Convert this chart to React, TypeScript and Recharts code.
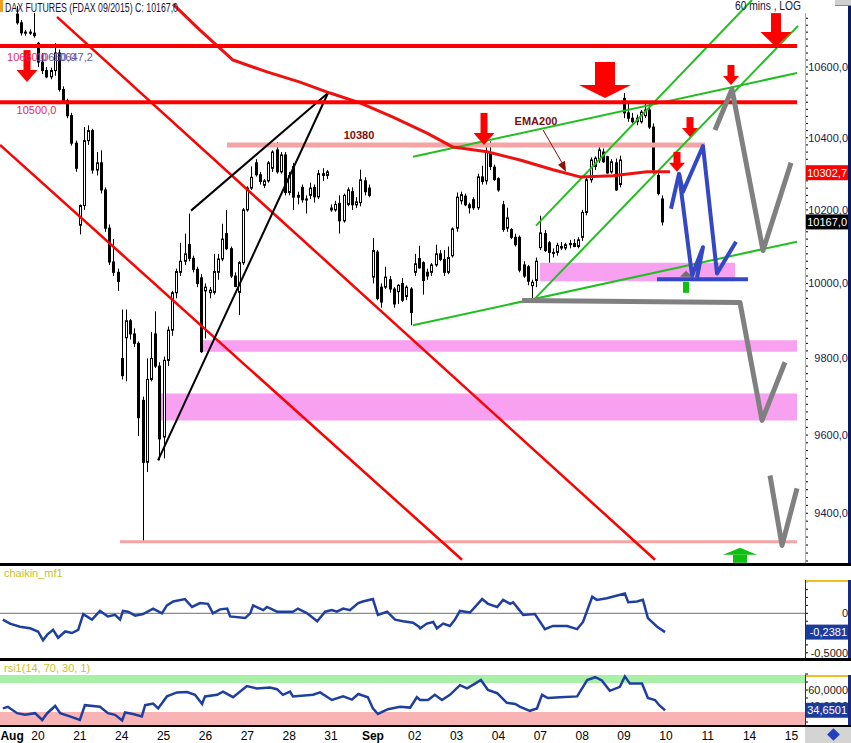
import React from 'react';
import { ComposedChart, Bar, Line, XAxis, YAxis, ReferenceArea, ReferenceDot, ReferenceLine } from 'recharts';

const FONT = '"Liberation Sans", Arial, Helvetica, sans-serif';

// ---------- time axis: t = trading-day index (0 = Aug 20), 10 hourly slots per day ----------
const T_DOMAIN: [number, number] = [-0.908, 18.323];
const xTickValues = [-0.62, 0, 1, 2, 3, 4, 5, 6, 7, 8, 9, 10, 11, 12, 13, 14, 15, 16, 17, 18];
const xTickLabels = ['Aug', '20', '21', '24', '25', '26', '27', '28', '31', 'Sep', '02', '03', '04', '07', '08', '09', '10', '11', '14', '15'];

// ---------- price axis (log) ----------
const P_DOMAIN: [number, number] = [9275, 10793];
const priceLabels = [9400, 9600, 9800, 10000, 10200, 10400, 10600];
const priceMarkers = [{ value: 10302.7, bg: '#ff0000' }, { value: 10167.0, bg: '#000000' }];

// ---------- hourly candles [open, high, low, close] ----------
const aug19 = [
  [10752, 10775, 10722, 10727], [10727, 10735, 10690, 10698], [10698, 10706, 10690, 10700],
  [10700, 10708, 10692, 10697], [10697, 10755, 10684, 10690],
];
const aug20 = [
  [10668, 10672, 10600, 10614], [10614, 10640, 10580, 10590], [10590, 10600, 10568, 10572],
  [10572, 10598, 10565, 10590], [10590, 10668, 10575, 10640], [10640, 10650, 10530, 10536],
  [10536, 10545, 10495, 10505], [10505, 10510, 10455, 10462], [10462, 10470, 10378, 10385],
  [10385, 10392, 10305, 10315],
];
const aug21 = [
  [10158, 10215, 10133, 10212], [10212, 10430, 10200, 10392], [10392, 10435, 10380, 10420],
  [10420, 10425, 10300, 10310], [10310, 10360, 10295, 10330], [10330, 10365, 10245, 10255],
  [10255, 10262, 10140, 10150], [10150, 10160, 10050, 10058], [10058, 10120, 10020, 10030],
  [10030, 10040, 9980, 10005],
];
const aug24 = [
  [9800, 9930, 9745, 9755], [9855, 9930, 9740, 9900], [9900, 9905, 9850, 9865],
  [9865, 9880, 9830, 9840], [9840, 9845, 9598, 9645], [9690, 9700, 9325, 9530],
  [9530, 9800, 9505, 9745], [9745, 9870, 9740, 9800], [9865, 9925, 9775, 9780],
  [9780, 9790, 9535, 9590],
];
const aug25 = [
  [9595, 9805, 9540, 9795], [9795, 9885, 9780, 9875], [9875, 9980, 9860, 9975],
  [9975, 10040, 9960, 10032], [10030, 10110, 10020, 10060], [10060, 10135, 10050, 10080],
  [10105, 10190, 10060, 10068], [10068, 10075, 10030, 10038], [10038, 10045, 9990, 10000],
  [10015, 10025, 9815, 9818],
];
const aug26 = [
  [9980, 10000, 9853, 9990], [9975, 9990, 9960, 9982], [9976, 10080, 9970, 10032],
  [10030, 10080, 10010, 10066], [10066, 10162, 10060, 10120], [10135, 10200, 10090, 10094],
  [10094, 10100, 10015, 10020], [10020, 10030, 9990, 9992], [9976, 10060, 9915, 10056],
  [10056, 10205, 10050, 10200],
];
const aug27 = [
  [10200, 10265, 10195, 10260], [10260, 10320, 10255, 10290], [10330, 10340, 10292, 10297],
  [10297, 10305, 10270, 10278], [10268, 10285, 10260, 10280], [10280, 10335, 10275, 10330],
  [10315, 10365, 10305, 10360], [10366, 10388, 10300, 10305], [10305, 10360, 10300, 10352],
  [10352, 10360, 10240, 10248],
];
const aug28 = [
  [10248, 10305, 10240, 10295], [10320, 10330, 10200, 10235], [10235, 10250, 10215, 10240],
  [10262, 10270, 10220, 10228], [10228, 10240, 10190, 10230], [10240, 10275, 10230, 10260],
  [10262, 10270, 10220, 10236], [10236, 10310, 10230, 10300], [10300, 10315, 10280, 10295],
  [10295, 10310, 10285, 10305],
];
const aug31 = [
  [10205, 10215, 10195, 10200], [10200, 10225, 10195, 10215], [10218, 10240, 10135, 10170],
  [10170, 10245, 10165, 10240], [10215, 10262, 10210, 10255], [10250, 10262, 10200, 10214],
  [10214, 10235, 10205, 10222], [10220, 10311, 10210, 10283], [10280, 10290, 10240, 10250],
  [10260, 10270, 10235, 10240],
];
const sep01 = [
  [10017, 10123, 10000, 10089], [10085, 10090, 9955, 9960], [9990, 10000, 9935, 9950],
  [9990, 10045, 9985, 10017], [10010, 10020, 9975, 9985], [9985, 9990, 9935, 9945],
  [9978, 9998, 9945, 9995], [10000, 10015, 9950, 9955], [9965, 9995, 9955, 9990],
  [9985, 9990, 9888, 9922],
];
const sep02 = [
  [10030, 10080, 10020, 10053], [10067, 10102, 10040, 10042], [10056, 10060, 9970, 10008],
  [10030, 10040, 10010, 10020], [10030, 10055, 10020, 10050], [10050, 10105, 10045, 10080],
  [10080, 10090, 10060, 10065], [10065, 10090, 10020, 10030], [10030, 10100, 10025, 10070],
  [10075, 10152, 10070, 10148],
];
const sep03 = [
  [10150, 10248, 10140, 10235], [10225, 10250, 10215, 10242], [10238, 10245, 10210, 10214],
  [10214, 10220, 10190, 10206], [10228, 10235, 10200, 10206], [10206, 10300, 10200, 10291],
  [10291, 10322, 10270, 10278], [10280, 10386, 10270, 10361], [10358, 10390, 10310, 10320],
  [10318, 10325, 10280, 10284],
];
const sep04 = [
  [10286, 10290, 10250, 10255], [10214, 10225, 10140, 10146], [10150, 10206, 10140, 10178],
  [10146, 10150, 10120, 10125], [10125, 10135, 10100, 10105], [10125, 10130, 10030, 10036],
  [10050, 10060, 10015, 10020], [10045, 10050, 9995, 10006], [9994, 10010, 9960, 10003],
  [10008, 10070, 9990, 10060],
];
const sep07 = [
  [10097, 10184, 10090, 10137], [10135, 10145, 10085, 10089], [10110, 10115, 10056, 10084],
  [10084, 10095, 10070, 10082], [10084, 10110, 10075, 10103], [10100, 10112, 10090, 10096],
  [10096, 10110, 10090, 10105], [10105, 10118, 10095, 10108], [10108, 10120, 10098, 10100],
  [10100, 10125, 10095, 10118],
];
const sep08 = [
  [10125, 10200, 10115, 10193], [10193, 10290, 10185, 10283], [10283, 10345, 10275, 10338],
  [10320, 10348, 10310, 10343], [10338, 10374, 10330, 10366], [10360, 10370, 10330, 10333],
  [10347, 10350, 10300, 10302], [10305, 10340, 10300, 10333], [10330, 10342, 10252, 10255],
  [10270, 10350, 10262, 10338],
];
const sep09 = [
  [10511, 10526, 10455, 10470], [10470, 10500, 10445, 10455], [10455, 10470, 10440, 10445],
  [10445, 10465, 10435, 10455], [10445, 10478, 10440, 10472], [10462, 10498, 10455, 10478],
  [10478, 10495, 10425, 10430], [10430, 10440, 10300, 10310], [10295, 10305, 10240, 10245],
  [10230, 10240, 10157, 10167],
];
const tradingDays = [
  { day: -1, firstSlot: 5, bars: aug19 }, { day: 0, firstSlot: 0, bars: aug20 },
  { day: 1, firstSlot: 0, bars: aug21 }, { day: 2, firstSlot: 0, bars: aug24 },
  { day: 3, firstSlot: 0, bars: aug25 }, { day: 4, firstSlot: 0, bars: aug26 },
  { day: 5, firstSlot: 0, bars: aug27 }, { day: 6, firstSlot: 0, bars: aug28 },
  { day: 7, firstSlot: 0, bars: aug31 }, { day: 8, firstSlot: 0, bars: sep01 },
  { day: 9, firstSlot: 0, bars: sep02 }, { day: 10, firstSlot: 0, bars: sep03 },
  { day: 11, firstSlot: 0, bars: sep04 }, { day: 12, firstSlot: 0, bars: sep07 },
  { day: 13, firstSlot: 0, bars: sep08 }, { day: 14, firstSlot: 0, bars: sep09 },
];
const candles = tradingDays.flatMap(({ day, firstSlot, bars }) =>
  bars.map(([o, h, l, c], j) => ({ t: day + (firstSlot + j) / 10, o, h, l, c })));

// ---------- drawn studies (t, price) ----------
const ema200 = [
  [3.225, 10781], [3.87, 10706], [4.658, 10620], [5.471, 10586], [6.259, 10557], [6.976, 10526],
  [7.692, 10498], [8.481, 10458], [9.293, 10413], [9.914, 10374], [10.726, 10361], [11.515, 10338],
  [12.303, 10311], [12.948, 10291], [13.736, 10294], [14.549, 10305], [15.098, 10305],
];
const resist10660 = [[-0.908, 10660], [18.132, 10660]];
const resist10500 = [[-0.908, 10500], [18.132, 10500]];
const level10380 = [[4.515, 10380], [15.934, 10380]];
const level9328 = [[1.959, 9328], [18.132, 9328]];
const redChannelLow = [[-0.908, 10380], [10.129, 9283]];
const redChannelHigh = [[0.454, 10744], [14.74, 9283]];
const wedgeUpper = [[3.655, 10198], [6.928, 10526]];
const wedgeLower = [[2.867, 9535], [6.928, 10526]];
const greenChanLow = [[8.958, 9888], [18.132, 10113]];
const greenChanHigh = [[8.958, 10347], [18.132, 10583]];
const greenSteepHigh = [[11.897, 10157], [17.057, 10793]];
const greenSteepLow = [[11.825, 9954], [18.156, 10718]];
const grayScenarioA = [[11.562, 9954], [16.77, 9949], [17.296, 9638], [17.845, 9790]];
const grayScenarioB = [[17.487, 9496], [17.774, 9319], [18.132, 9463]];
const grayScenarioC = [[16.173, 10422], [16.579, 10537], [17.32, 10089], [17.989, 10330]];
const blueScenarioA = [[15.122, 10203], [15.313, 10300], [15.409, 10250], [15.886, 10377], [16.221, 10027], [16.675, 10113]];
const blueScenarioB = [[15.313, 10300], [15.624, 10021], [15.886, 10098], [15.743, 10016]];
const blueBase = [[14.787, 10011], [16.961, 10011]];
const emaPointer = [[12.064, 10422], [12.59, 10316]];

const zones = [
  { x1: 11.992, x2: 16.651, y1: 10006, y2: 10056 },
  { x1: 3.942, x2: 18.132, y1: 9818, y2: 9848 },
  { x1: 2.915, x2: 18.132, y1: 9638, y2: 9708 },
];

const downArrows = [
  { t: -0.263, p: 10557, kind: 'M' }, { t: 10.655, p: 10380, kind: 'M' },
  { t: 13.545, p: 10512, kind: 'L' }, { t: 15.576, p: 10402, kind: 'S' },
  { t: 15.265, p: 10305, kind: 'S' }, { t: 16.555, p: 10549, kind: 'S' },
  { t: 17.63, p: 10657, kind: 'M2' },
];
const upArrows = [{ t: 16.77, p: 9313, kind: 'G' }, { t: 15.48, p: 10034, kind: 'mini' }];
const emaPointerHead = [{ t: 12.59, p: 10311 }];

const chartNotes = [
  { t: -0.036, p: 10478, text: '10500,0', kind: 'level' },
  { t: 7.668, p: 10408, text: '10380', kind: 'note' },
  { t: 11.897, p: 10447, text: 'EMA200', kind: 'note' },
  { t: -0.263, p: 10629, text: '10660,0', kind: 'level' },
  { t: 0.43, p: 10629, text: '10660,0', kind: 'alt' },
  { t: 0.836, p: 10629, text: '10647,2', kind: 'alt' },
];

// ---------- indicators ----------
const chaikinPts = [
  [-0.84, -0.08], [-0.67, -0.13], [-0.43, -0.17], [-0.19, -0.19], [0, -0.23], [0.12, -0.34], [0.22, -0.27],
  [0.36, -0.21], [0.48, -0.31], [0.65, -0.23], [0.81, -0.25], [0.96, -0.21], [1.08, -0.01], [1.29, -0.08],
  [1.48, 0.03], [1.67, -0.04], [1.84, -0.02], [1.96, -0.08], [2.03, 0.03], [2.15, 0.02], [2.32, -0.03],
  [2.51, -0.01], [2.75, 0.06], [2.96, 0], [3.08, 0.1], [3.23, 0.15], [3.51, 0.18], [3.68, 0.08],
  [3.87, 0.13], [4.06, 0.12], [4.18, 0], [4.35, 0.05], [4.52, 0.06], [4.59, -0.04], [4.95, -0.06],
  [5.07, 0], [5.14, 0.1], [5.38, 0.04], [5.47, 0.08], [5.71, 0.02], [6.09, 0.02], [6.21, 0.06],
  [6.43, 0], [6.67, -0.1], [6.86, 0.02], [7.02, 0.04], [7.14, 0.02], [7.29, 0.06], [7.45, 0.04],
  [7.65, 0.13], [7.76, 0.15], [8.0, 0.18], [8.12, -0.02], [8.34, 0.02], [8.53, -0.08], [8.72, -0.1],
  [8.96, -0.12], [9.1, -0.17], [9.13, -0.19], [9.29, -0.13], [9.44, -0.11], [9.53, -0.19], [9.68, -0.13],
  [9.84, -0.16], [9.96, -0.08], [10.08, 0.03], [10.32, 0.01], [10.61, 0.18], [10.75, 0.12], [10.97, 0.08],
  [11.11, 0.17], [11.28, 0.12], [11.35, 0.14], [11.59, -0.02], [11.87, -0.01], [12.11, -0.2], [12.3, -0.16],
  [12.64, -0.16], [12.88, -0.2], [13.02, -0.11], [13.24, 0.21], [13.35, 0.17], [13.59, 0.19], [14.02, 0.25],
  [14.1, 0.14], [14.31, 0.15], [14.45, 0.17], [14.57, -0.06], [14.79, -0.17], [14.98, -0.2381],
];
const chaikinLabels = [0, -0.5];
const chaikinMarkers = [{ value: -0.2381, bg: '#1c3c9c' }];

const rsiPts = [
  [-0.84, 37], [-0.72, 39], [-0.5, 31], [-0.31, 29], [-0.07, 31], [0.1, 22.5], [0.22, 31], [0.41, 40],
  [0.53, 31], [0.76, 27], [1.0, 22.5], [1.12, 41], [1.48, 39], [1.67, 31], [1.84, 29], [2.01, 22],
  [2.08, 32], [2.27, 30], [2.48, 27], [2.56, 41], [2.75, 43], [2.87, 37], [3.08, 52], [3.32, 57],
  [3.56, 57.5], [3.75, 54], [3.92, 42.5], [3.99, 52], [4.28, 54], [4.42, 58], [4.66, 51], [4.99, 65],
  [5.23, 62], [5.54, 63], [5.71, 61], [5.85, 54], [6.02, 58], [6.09, 52], [6.57, 54], [6.74, 57],
  [7.02, 47.5], [7.29, 52], [7.5, 48], [7.65, 55], [7.88, 51], [8.0, 37], [8.12, 30], [8.36, 36],
  [8.65, 39], [8.89, 38], [9.05, 51], [9.13, 47.5], [9.32, 47.5], [9.48, 54], [9.65, 47.5], [9.84, 54],
  [10.08, 66], [10.25, 62], [10.44, 68], [10.58, 72.5], [10.75, 60], [10.97, 56], [11.2, 44], [11.4, 42.5],
  [11.52, 39], [11.75, 34], [11.92, 37], [12.04, 54], [12.18, 50], [12.47, 51], [12.88, 52], [13.12, 72.5],
  [13.31, 76], [13.47, 72], [13.66, 59], [13.9, 64], [14.02, 77], [14.14, 68], [14.43, 68], [14.57, 50],
  [14.74, 47.5], [14.84, 41], [14.98, 34.6501],
];
const rsiLabels = [60, 40];
const rsiMarkers = [{ value: 34.6501, bg: '#1c3c9c' }];
const rsiBands = [
  { y1: 68.75, y2: 78.75, fill: '#a8f0a8' },
  { y1: 16.25, y2: 32.5, fill: '#f8b4b4' },
];

// ---------- helpers ----------
const toPts = (arr: number[][]) => arr.map(([t, p]) => ({ t, p }));
const range = (a: number, b: number, s: number) => {
  const out: number[] = [];
  for (let k = 0; a + k * s <= b + 1e-9; k++) out.push(Math.round((a + k * s) * 10000) / 10000);
  return out;
};
const priceTicks = [...range(9280, 10740, 20), ...priceMarkers.map((m) => m.value)];
const chaikinTicks = [...range(-0.5, 0.4, 0.1), ...chaikinMarkers.map((m) => m.value)];
const rsiTicks = [...range(20, 80, 10), ...rsiMarkers.map((m) => m.value)];

const fmtPrice = (v: number) => v.toFixed(1).replace('.', ',');
const fmt4 = (v: number) => (Math.abs(v) < 1e-9 ? '0' : v.toFixed(4).replace('.', ','));

function makeAxisTick(labels: number[], markers: { value: number; bg: string }[], format: (v: number) => string, color: string) {
  return (props: any) => {
    const { x, y, payload } = props;
    const v = payload.value;
    const m = markers.find((mm) => Math.abs(mm.value - v) < 1e-9);
    if (m) {
      return (
        <g>
          <rect x={x + 1} y={y - 7.5} width={42} height={15} fill={m.bg} />
          <text x={x + 42} y={y + 4} textAnchor="end" fontSize={11} fontFamily={FONT} fill="#ffffff">{format(v)}</text>
        </g>
      );
    }
    const isLabel = labels.some((l) => Math.abs(l - v) < 1e-9);
    return (
      <g>
        <line x1={x} x2={x + 3} y1={y} y2={y} stroke="#000" strokeWidth={1} />
        {isLabel ? (
          <text x={x + 43} y={y + 4} textAnchor="end" fontSize={11} fontFamily={FONT} fill={color}>{format(v)}</text>
        ) : null}
      </g>
    );
  };
}
const PriceTick = makeAxisTick(priceLabels, priceMarkers, fmtPrice, '#1a2050');
const ChaikinTick = makeAxisTick(chaikinLabels, chaikinMarkers, fmt4, '#202020');
const RsiTick = makeAxisTick(rsiLabels, rsiMarkers, fmt4, '#202020');

const XTick = (props: any) => {
  const { x, y, payload } = props;
  const i = xTickValues.findIndex((v) => Math.abs(v - payload.value) < 1e-6);
  const label = i >= 0 ? xTickLabels[i] : '';
  const bold = label === 'Aug' || label === 'Sep';
  return (
    <text x={x} y={y + 15} textAnchor="middle" fontSize={12} fontWeight={bold ? 'bold' : 'normal'} fontFamily={FONT} fill="#000">{label}</text>
  );
};

const CandleShape = (props: any) => {
  const { x, y, width, height, payload } = props;
  if (!payload || !isFinite(y) || !isFinite(height)) return <g />;
  const { o, h, l, c } = payload;
  const yTop = Math.min(y, y + height);
  const hh = Math.abs(height);
  const ly = (v: number) => (h === l ? yTop : yTop + (hh * (Math.log(h) - Math.log(v))) / (Math.log(h) - Math.log(l)));
  const cx = Math.round(x + width / 2) + 0.5;
  const top = ly(Math.max(o, c));
  const bot = ly(Math.min(o, c));
  const up = c >= o;
  return (
    <g>
      <line x1={cx} x2={cx} y1={yTop} y2={yTop + hh} stroke="#000" strokeWidth={1} />
      <rect x={cx - 1} y={top} width={2} height={Math.max(1, bot - top)} fill={up ? '#ffffff' : '#000000'} stroke="#000" strokeWidth={1} />
    </g>
  );
};

const arrowSizes: Record<string, { sw: number; sh: number; hw: number; hh: number }> = {
  L: { sw: 20, sh: 23, hw: 52, hh: 13 },
  M: { sw: 7, sh: 20, hw: 21, hh: 12 },
  M2: { sw: 10, sh: 19, hw: 31, hh: 15 },
  S: { sw: 7, sh: 11, hw: 16, hh: 9 },
  G: { sw: 14, sh: 8, hw: 34, hh: 7 },
  mini: { sw: 6, sh: 11, hw: 12, hh: 6 },
};

const noteStyles: Record<string, { fill: string; weight: string }> = {
  level: { fill: '#e8285c', weight: 'normal' },
  note: { fill: '#7a1010', weight: 'bold' },
  alt: { fill: '#6655aa', weight: 'normal' },
};

const lineSpecs: { pts: number[][]; stroke: string; w: number }[] = [
  { pts: redChannelLow, stroke: '#ff0000', w: 2.5 },
  { pts: redChannelHigh, stroke: '#ff0000', w: 2.5 },
  { pts: wedgeUpper, stroke: '#000000', w: 2 },
  { pts: wedgeLower, stroke: '#000000', w: 2 },
  { pts: greenChanLow, stroke: '#1fbf1f', w: 2 },
  { pts: greenChanHigh, stroke: '#1fbf1f', w: 2 },
  { pts: greenSteepHigh, stroke: '#1fbf1f', w: 2 },
  { pts: greenSteepLow, stroke: '#1fbf1f', w: 2 },
  { pts: ema200, stroke: '#ee1111', w: 3 },
  { pts: resist10660, stroke: '#ff0000', w: 4 },
  { pts: resist10500, stroke: '#ff0000', w: 4 },
  { pts: grayScenarioA, stroke: '#808080', w: 5 },
  { pts: grayScenarioB, stroke: '#808080', w: 5 },
  { pts: grayScenarioC, stroke: '#808080', w: 5 },
  { pts: blueScenarioA, stroke: '#3447c4', w: 4 },
  { pts: blueScenarioB, stroke: '#3447c4', w: 4 },
  { pts: blueBase, stroke: '#3447c4', w: 4 },
  { pts: emaPointer, stroke: '#8b1010', w: 1 },
];

const abs = (l: number, t: number, w: number, h: number, bg: string): React.CSSProperties => ({
  position: 'absolute', left: l, top: t, width: w, height: h, background: bg,
});

export default function App() {
  return (
    <div style={{ position: 'absolute', left: 0, top: 0, width: 851, height: 743, background: '#fff', overflow: 'hidden', fontFamily: FONT }}>
      {/* ---------- price panel ---------- */}
      <div style={{ position: 'absolute', left: 0, top: 0 }}>
        <ComposedChart width={851} height={563} data={candles} margin={{ top: 0, right: 0, bottom: 0, left: 0 }}>
          <XAxis dataKey="t" type="number" domain={T_DOMAIN} allowDataOverflow hide />
          <YAxis orientation="right" scale="log" domain={P_DOMAIN} allowDataOverflow ticks={priceTicks} interval={0}
            tick={PriceTick} tickSize={0} tickMargin={0} tickLine={false} axisLine={false} width={46} />
          {zones.map((z, i) => (
            <ReferenceArea key={'z' + i} x1={z.x1} x2={z.x2} y1={z.y1} y2={z.y2} fill="#f7a1f0" fillOpacity={1} stroke="none" ifOverflow="visible" />
          ))}
          <Line data={toPts(level10380)} dataKey="p" stroke="#f4a4a4" strokeWidth={5} dot={false} activeDot={false} isAnimationActive={false} type="linear" />
          <Line data={toPts(level9328)} dataKey="p" stroke="#f4a4a4" strokeWidth={3} dot={false} activeDot={false} isAnimationActive={false} type="linear" />
          <Bar dataKey={(d: any) => [d.l, d.h]} barSize={3} shape={CandleShape} isAnimationActive={false} />
          {lineSpecs.map((s, i) => (
            <Line key={'l' + i} data={toPts(s.pts)} dataKey="p" stroke={s.stroke} strokeWidth={s.w} strokeLinejoin="round"
              dot={false} activeDot={false} isAnimationActive={false} type="linear" />
          ))}
          {emaPointerHead.map((a, i) => (
            <ReferenceDot key={'eh' + i} x={a.t} y={a.p} r={0} ifOverflow="visible"
              shape={(pr: any) => (
                <polygon points={`${pr.cx + 1},${pr.cy + 2} ${pr.cx - 7},${pr.cy - 5} ${pr.cx},${pr.cy - 9}`} fill="#8b1010" />
              )} />
          ))}
          {downArrows.map((a, i) => (
            <ReferenceDot key={'d' + i} x={a.t} y={a.p} r={0} ifOverflow="visible"
              shape={(pr: any) => {
                const s = arrowSizes[a.kind];
                return (
                  <g>
                    <rect x={pr.cx - s.sw / 2} y={pr.cy - s.hh - s.sh} width={s.sw} height={s.sh + 1} fill="#ff0000" />
                    <polygon points={`${pr.cx - s.hw / 2},${pr.cy - s.hh} ${pr.cx + s.hw / 2},${pr.cy - s.hh} ${pr.cx},${pr.cy}`} fill="#ff0000" />
                  </g>
                );
              }} />
          ))}
          {upArrows.map((a, i) => (
            <ReferenceDot key={'u' + i} x={a.t} y={a.p} r={0} ifOverflow="visible"
              shape={(pr: any) => {
                const s = arrowSizes[a.kind];
                const gap = a.kind === 'mini' ? 5 : 0;
                return (
                  <g>
                    <polygon points={`${pr.cx - s.hw / 2},${pr.cy + s.hh} ${pr.cx + s.hw / 2},${pr.cy + s.hh} ${pr.cx},${pr.cy}`}
                      fill={a.kind === 'mini' ? '#707070' : '#10c010'} />
                    <rect x={pr.cx - s.sw / 2} y={pr.cy + s.hh + gap} width={s.sw} height={s.sh} fill="#10c010" />
                  </g>
                );
              }} />
          ))}
          {chartNotes.map((n, i) => (
            <ReferenceDot key={'n' + i} x={n.t} y={n.p} r={0} ifOverflow="visible"
              shape={(pr: any) => (
                <text x={pr.cx} y={pr.cy + 4} textAnchor="middle" fontSize={11} fontFamily={FONT}
                  fontWeight={noteStyles[n.kind].weight} fill={noteStyles[n.kind].fill}>{n.text}</text>
              )} />
          ))}
        </ComposedChart>
      </div>

      {/* ---------- chaikin panel ---------- */}
      <div style={{ position: 'absolute', left: 0, top: 566 }}>
        <ComposedChart width={851} height={92} data={chaikinPts.map(([t, v]) => ({ t, v }))} margin={{ top: 0, right: 0, bottom: 0, left: 0 }}>
          <XAxis dataKey="t" type="number" domain={T_DOMAIN} allowDataOverflow hide />
          <YAxis orientation="right" domain={[-0.566, 0.599]} allowDataOverflow ticks={chaikinTicks} interval={0}
            tick={ChaikinTick} tickSize={0} tickMargin={0} tickLine={false} axisLine={false} width={46} />
          <ReferenceLine y={0} stroke="#707070" strokeWidth={1} ifOverflow="visible" />
          <Line dataKey="v" stroke="#1f3f9f" strokeWidth={2.5} dot={false} activeDot={false} isAnimationActive={false} type="linear" />
        </ComposedChart>
      </div>

      {/* ---------- rsi panel ---------- */}
      <div style={{ position: 'absolute', left: 0, top: 661 }}>
        <ComposedChart width={851} height={82} data={rsiPts.map(([t, v]) => ({ t, v }))} margin={{ top: 0, right: 0, bottom: 0, left: 0 }}>
          <XAxis dataKey="t" type="number" domain={T_DOMAIN} allowDataOverflow ticks={xTickValues} interval={0}
            tick={XTick} tickSize={0} tickMargin={0} tickLine={false} axisLine={false} height={18} />
          <YAxis orientation="right" domain={[16.25, 96.25]} allowDataOverflow ticks={rsiTicks} interval={0}
            tick={RsiTick} tickSize={0} tickMargin={0} tickLine={false} axisLine={false} width={46} />
          {rsiBands.map((b, i) => (
            <ReferenceArea key={'b' + i} y1={b.y1} y2={b.y2} fill={b.fill} fillOpacity={1} stroke="none" ifOverflow="visible" />
          ))}
          <Line dataKey="v" stroke="#1f3f9f" strokeWidth={2.5} dot={false} activeDot={false} isAnimationActive={false} type="linear" />
        </ComposedChart>
      </div>

      {/* ---------- frames & separators ---------- */}
      <div style={abs(0, 563, 851, 3, '#000')} />
      <div style={abs(0, 658, 851, 3, '#000')} />
      <div style={abs(0, 725, 851, 2, '#000')} />
      <div style={abs(805, 13, 1, 550, '#e8a820')} />
      <div style={abs(848, 0, 3, 563, '#0a1a60')} />
      <div style={abs(805, 580, 46, 2, '#f0c020')} />
      <div style={abs(805, 580, 1, 78, '#1a2a80')} />
      <div style={abs(848, 580, 3, 78, '#1a2a80')} />
      <div style={abs(805, 675, 46, 2, '#f0c020')} />
      <div style={abs(805, 675, 1, 50, '#1a2a80')} />
      <div style={abs(848, 675, 3, 50, '#1a2a80')} />
      <div style={abs(805, 727, 46, 16, '#d4d4d4')} />
      <div style={{ ...abs(829, 730, 9, 9, '#2040c0'), transform: 'rotate(45deg)' }} />
      <div style={abs(0, 0, 3, 12, '#f0a020')} />
      <div style={{ ...abs(835, 0, 16, 5, '#d0d0d0'), borderBottom: '1px solid #888' }} />

      {/* ---------- titles ---------- */}
      <svg width={851} height={20} style={{ position: 'absolute', left: 0, top: 0, pointerEvents: 'none' }}>
        <text x={5} y={12} fontSize={12} fontFamily={FONT} fill="#14143c" textLength={173} lengthAdjust="spacingAndGlyphs">
          DAX FUTURES (FDAX 09/2015) C: 10167,0
        </text>
        <text x={735} y={10} fontSize={12} fontFamily={FONT} fill="#14143c" textLength={66} lengthAdjust="spacingAndGlyphs">
          60 mins , LOG
        </text>
      </svg>
      <svg width={200} height={16} style={{ position: 'absolute', left: 0, top: 566, pointerEvents: 'none' }}>
        <text x={4} y={11} fontSize={11} fontFamily={FONT} fill="#c8c030">chaikin_mf1</text>
      </svg>
      <svg width={200} height={16} style={{ position: 'absolute', left: 0, top: 661, pointerEvents: 'none' }}>
        <text x={4} y={11} fontSize={11} fontFamily={FONT} fill="#c8c030">rsi1(14, 70, 30, 1)</text>
      </svg>
    </div>
  );
}
